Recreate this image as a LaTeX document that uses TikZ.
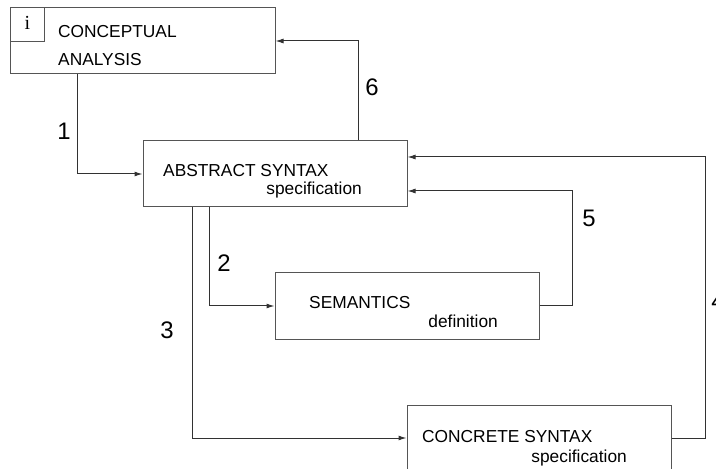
\documentclass[tikz,border=0pt]{standalone}
\usepackage{fontspec}
\setmainfont{Liberation Sans}
\newfontfamily\serifi{Liberation Serif}
\usetikzlibrary{arrows,arrows.meta,positioning}

\definecolor{linegray}{RGB}{50,50,50}
\definecolor{boxgray}{RGB}{85,85,85}

\tikzset{
  box/.style={draw=boxgray, line width=1bp, minimum width=264bp,
    minimum height=66bp, inner sep=0pt},
  txt/.style={inner sep=0pt, font=\fontsize{17.4}{20}\selectfont},
  num/.style={inner sep=0pt, font=\fontsize{24}{28}\selectfont},
  flow/.style={draw=linegray, line width=1bp, -{Latex[length=8bp,width=5bp]}}
}

\begin{document}
\begin{tikzpicture}[x=1bp,y=-1bp]
\useasboundingbox (0,0) rectangle (716,469);

% boxes
\node[box] (concept)   at (143,41)  {};
\node[box] (abstract)  at (275,174) {};
\node[box] (semantics) at (407,306) {};
\node[box] (concrete)  at (539,438) {};
\draw[boxgray, line width=1bp] (11,42) -| (44,8);
\node[inner sep=0pt, font=\serifi\fontsize{20}{20}\selectfont] (ilabel) at (27.5,23) {i};

% texts
\node[txt, anchor=base west] (conceptA) at (58,38)  {CONCEPTUAL};
\node[txt, anchor=base west] (conceptB) at (58,66)  {ANALYSIS};
\node[txt, anchor=base west] (absA)     at (163,177) {ABSTRACT SYNTAX};
\node[txt, anchor=base east] (absB)     at (362,195) {specification};
\node[txt, anchor=base west] (semA)     at (309,309) {SEMANTICS};
\node[txt, anchor=base east] (semB)     at (498,328) {definition};
\node[txt, anchor=base west] (conA)     at (422,442) {CONCRETE SYNTAX};
\node[txt, anchor=base east] (conB)     at (627,462) {specification};

% connectors
\draw[flow] ([xshift=67bp]concept.south west) |- (abstract.west);
\draw[flow] ([xshift=-49bp]abstract.north east) |- (concept.east);
\draw[flow] ([xshift=67bp]abstract.south west) |- (semantics.west);
\draw[flow] ([xshift=50bp]abstract.south west) |- (concrete.west);
\draw[flow] (semantics.east) -- ++(33,0) |- ([yshift=-17bp]abstract.east);
\draw[flow] (concrete.east) -- ++(34,0) |- ([yshift=17bp]abstract.east);

% numbers
\node[num] (n1) at (64,131)  {1};
\node[num] (n2) at (224,263) {2};
\node[num] (n3) at (167,330) {3};
\node[num] (n4) at (718,301) {4};
\node[num] (n5) at (589,218) {5};
\node[num] (n6) at (372,87)  {6};
\end{tikzpicture}
\end{document}
